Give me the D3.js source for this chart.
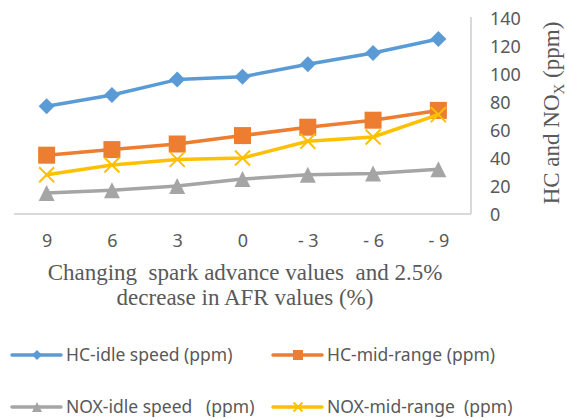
<!DOCTYPE html>
<html><head><meta charset="utf-8">
<script src="https://cdn.jsdelivr.net/npm/d3@7/dist/d3.min.js"></script>
<style>
body{margin:0;background:#fff;}
svg text{white-space:pre;}
</style></head>
<body><svg id="c" width="567" height="419"></svg>
<script>
const categories = ["9","6","3","0","- 3","- 6","- 9"];
const hcIdle = [77,85,96,98,107,115,125];
const hcMid = [42,46,50,56,62,67,74];
const noxIdle = [15,17,20,25,28,29,32];
const noxMid = [28,35,39,40,52,55,71];
const yTicks = [0,20,40,60,80,100,120,140];
const seriesNames = ["HC-idle speed (ppm)","HC-mid-range (ppm)","NOX-idle speed   (ppm)","NOX-mid-range  (ppm)"];

const series = [
  {name:seriesNames[0], values:hcIdle, color:"#5B9BD5", marker:"diamond"},
  {name:seriesNames[1], values:hcMid, color:"#ED7D31", marker:"square"},
  {name:seriesNames[2], values:noxIdle, color:"#A5A5A5", marker:"triangle"},
  {name:seriesNames[3], values:noxMid, color:"#FFC000", marker:"x"}
];

const svg = d3.select("#c");
const L=14, R=471, T=18, B=214;
const x = d3.scalePoint().domain(categories).range([L,R]).padding(0.5);
const y = d3.scaleLinear().domain([0,140]).range([B,T]);

const tickFont = "'Noto Sans', sans-serif";
const xAxis = d3.axisBottom(x).tickSize(0).tickPadding(20);
const gx = svg.append("g").attr("transform",`translate(0,${B})`).call(xAxis);
gx.select(".domain").attr("stroke","#D9D9D9").attr("stroke-width",2).attr("d",`M${L},0H${R}`);
gx.selectAll("text").attr("font-family",tickFont).attr("font-size",18).attr("fill","#595959");

const yAxis = d3.axisRight(y).tickValues(yTicks).tickSize(0).tickPadding(19);
const gy = svg.append("g").attr("transform",`translate(${R},0)`).call(yAxis);
gy.select(".domain").attr("stroke","#D9D9D9").attr("stroke-width",2).attr("d",`M0,${T-1}V${B}`);
gy.selectAll("text").attr("font-family",tickFont).attr("font-size",18).attr("fill","#595959").attr("dy","0.36em");

function drawMarker(g, type, color, size){
  const h=size/2;
  if(type==="diamond"){
    g.append("path").attr("d",`M0,${-h}L${h},0L0,${h}L${-h},0Z`).attr("fill",color);
  } else if(type==="square"){
    g.append("rect").attr("x",-h).attr("y",-h).attr("width",size).attr("height",size).attr("fill",color);
  } else if(type==="triangle"){
    g.append("path").attr("d",`M0,${-h}L${h},${h}L${-h},${h}Z`).attr("fill",color);
  } else {
    g.append("path").attr("d",`M${-h},${-h}L${h},${h}M${h},${-h}L${-h},${h}`).attr("stroke",color).attr("stroke-width",2);
  }
}

const line = d3.line().x((d,i)=>x(categories[i])).y(d=>y(d));
const msize = {diamond:16,square:17,triangle:16,x:15};
series.forEach(s=>{
  const g = svg.append("g");
  g.append("path").attr("d",line(s.values)).attr("fill","none").attr("stroke",s.color).attr("stroke-width",3.5).attr("stroke-linejoin","round").attr("stroke-linecap","round");
  s.values.forEach((v,i)=>{
    const m = g.append("g").attr("transform",`translate(${x(categories[i])},${y(v)})`);
    drawMarker(m, s.marker, s.color, msize[s.marker]);
  });
});

// x title
const serif = "'Liberation Serif', 'Times New Roman', serif";
const xt = svg.append("text").attr("text-anchor","middle").attr("font-family",serif).attr("font-size",23).attr("fill","#595959");
xt.append("tspan").attr("x",245).attr("y",280).text("Changing  spark advance values  and 2.5%");
xt.append("tspan").attr("x",245).attr("y",305).text("decrease in AFR values (%)");

// y title
const yt = svg.append("text").attr("transform","translate(559,113) rotate(-90)").attr("text-anchor","middle").attr("font-family",serif).attr("font-size",23).attr("fill","#595959");
yt.append("tspan").text("HC and NO");
yt.append("tspan").attr("font-size",15).attr("dy",5).text("X");
yt.append("tspan").attr("dy",-5).text(" (ppm)");

// legend
const legPos = [[12,355],[273,355],[12,407],[273,407]];
series.forEach((s,i)=>{
  const [lx,ly] = legPos[i];
  const g = svg.append("g").attr("transform",`translate(${lx},${ly})`);
  g.append("line").attr("x1",0).attr("x2",49).attr("y1",0).attr("y2",0).attr("stroke",s.color).attr("stroke-width",3.5).attr("stroke-linecap","round");
  const m = g.append("g").attr("transform","translate(25,0)");
  drawMarker(m, s.marker, s.color, s.marker==="x"?9:10);
  g.append("text").attr("x",54).attr("y",0).attr("dy","0.35em").attr("font-family",tickFont).attr("font-size",17.5).attr("fill","#595959").text(s.name);
});
</script></body></html>
